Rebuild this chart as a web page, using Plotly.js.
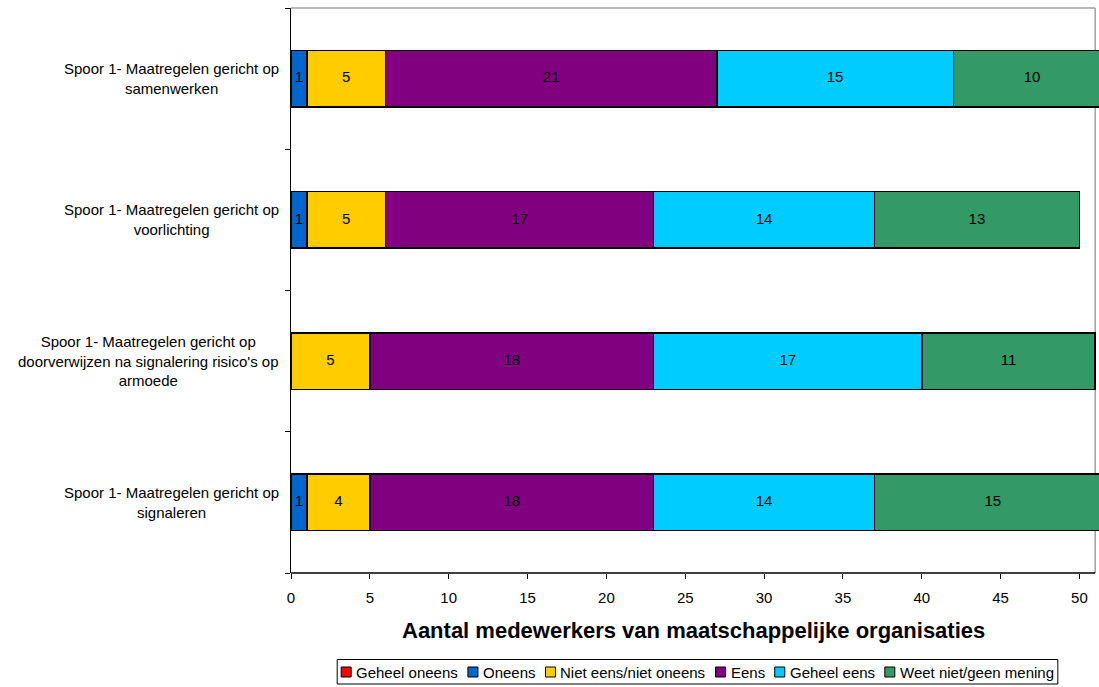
<!DOCTYPE html>
<html>
<head>
<meta charset="utf-8">
<script src="https://cdn.plot.ly/plotly-3.0.1.min.js"></script>
<style>html,body{margin:0;padding:0;background:#fff;}#chart{width:1099px;height:687px;}</style>
</head>
<body>
<div id="chart"></div>
<script>
// Categories, bottom to top as drawn
const categories = [
  "Spoor 1- Maatregelen gericht op<br>signaleren",
  "Spoor 1- Maatregelen gericht op<br>doorverwijzen na signalering risico's op<br>armoede",
  "Spoor 1- Maatregelen gericht op<br>voorlichting",
  "Spoor 1- Maatregelen gericht op<br>samenwerken"
];
const seriesNames = ["Geheel oneens", "Oneens", "Niet eens/niet oneens", "Eens", "Geheel eens", "Weet niet/geen mening"];
const geheelOneens = [0, 0, 0, 0];
const oneens = [1, 0, 1, 1];
const nietEensNietOneens = [4, 5, 5, 5];
const eens = [18, 18, 17, 21];
const geheelEens = [14, 17, 14, 15];
const weetNiet = [15, 11, 13, 10];
const seriesValues = [geheelOneens, oneens, nietEensNietOneens, eens, geheelEens, weetNiet];
const seriesColors = ["#FF0000", "#0066CC", "#FFCC00", "#800080", "#00CCFF", "#339966"];
const xTicks = [0, 5, 10, 15, 20, 25, 30, 35, 40, 45, 50];
const xTitle = "Aantal medewerkers van maatschappelijke organisaties";

const FONT = "Liberation Sans, Arial, sans-serif";
const W = 1099, H = 687, ML = 291, MR = 0, MT = 8, MB = 114;
const PW = W - ML - MR, PH = H - MT - MB;
const XMAX = 51.24, XFRAME = 51;
const px2paperX = p => (p - ML) / PW;
const px2paperY = p => (H - MB - p) / PH;

const catIdx = categories.map((c, i) => i);
const traces = seriesValues.map((vals, s) => ({
  type: "bar",
  orientation: "h",
  name: seriesNames[s],
  y: catIdx,
  x: vals,
  marker: {color: seriesColors[s], line: {color: "#000", width: 1.5}},
  showlegend: false,
  hoverinfo: "skip"
}));

// value labels at the middle of each segment
const lx = [], ly = [], lt = [];
catIdx.forEach(i => {
  let start = 0;
  seriesValues.forEach(vals => {
    const v = vals[i];
    if (v > 0) { lx.push(start + v / 2); ly.push(i); lt.push(String(v)); }
    start += v;
  });
});
traces.push({
  type: "scatter", mode: "text", x: lx, y: ly, text: lt,
  textposition: "middle center", textfont: {family: FONT, size: 15, color: "#000"},
  cliponaxis: false, showlegend: false, hoverinfo: "skip"
});

const annotations = categories.map((c, i) => ({
  xref: "paper", yref: "y", x: 0, y: i,
  xanchor: "right", yanchor: "middle", xshift: -10,
  align: "center", showarrow: false, text: c,
  font: {family: FONT, size: 15, color: "#000"}
}));
annotations.push({
  xref: "paper", yref: "paper", x: px2paperX(693), y: px2paperY(630),
  xanchor: "center", yanchor: "middle", showarrow: false,
  text: "<b>" + xTitle + "</b>", font: {family: FONT, size: 22, color: "#000"}
});

const shapes = [
  {type: "line", xref: "x", yref: "paper", x0: 0, x1: XFRAME, y0: 1, y1: 1, line: {color: "#a0a0a0", width: 1.5}, layer: "below"},
  {type: "line", xref: "x", yref: "paper", x0: XFRAME, x1: XFRAME, y0: 0, y1: 1, line: {color: "#a0a0a0", width: 1.5}, layer: "below"},
  {type: "line", xref: "x", yref: "paper", x0: 0, x1: XFRAME, y0: 0, y1: 0, line: {color: "#000", width: 1.5}, layer: "above"}
];

// manual legend
const ctx = document.createElement("canvas").getContext("2d");
ctx.font = "15px 'Liberation Sans'";
const SQ = 10, GAP_T = 5, GAP_I = 10, PAD = 4;
const widths = seriesNames.map(n => ctx.measureText(n).width);
let total = PAD;
widths.forEach((w, k) => { total += SQ + GAP_T + w + (k < widths.length - 1 ? GAP_I : 0); });
total += PAD;
const boxL = 697.5 - total / 2, boxR = boxL + total, boxT = 659.5, boxB = 684, cy = 672;
shapes.push({type: "rect", xref: "paper", yref: "paper", x0: px2paperX(boxL), x1: px2paperX(boxR), y0: px2paperY(boxB), y1: px2paperY(boxT), line: {color: "#000", width: 1}, fillcolor: "#fff"});
let cx = boxL + PAD;
seriesNames.forEach((n, k) => {
  shapes.push({type: "rect", xref: "paper", yref: "paper",
    x0: px2paperX(cx), x1: px2paperX(cx + SQ), y0: px2paperY(cy + SQ / 2), y1: px2paperY(cy - SQ / 2),
    line: {color: "#000", width: 1}, fillcolor: seriesColors[k]});
  annotations.push({xref: "paper", yref: "paper", x: px2paperX(cx + SQ + GAP_T - 1), y: px2paperY(cy),
    xanchor: "left", yanchor: "middle", showarrow: false, text: n, borderpad: 0,
    font: {family: FONT, size: 15, color: "#000"}});
  cx += SQ + GAP_T + widths[k] + GAP_I;
});

const layout = {
  width: W, height: H,
  margin: {l: ML, r: MR, t: MT, b: MB},
  paper_bgcolor: "#fff", plot_bgcolor: "#fff",
  barmode: "stack",
  bargap: 0.6,
  showlegend: false,
  font: {family: FONT, size: 15, color: "#000"},
  xaxis: {
    range: [0, XMAX], tickvals: xTicks, ticktext: xTicks.map(String),
    showgrid: false, zeroline: false, showline: false,
    ticks: "outside", ticklen: 5, tickcolor: "#000", tickwidth: 1,
    ticklabelstandoff: 6,
    tickfont: {size: 15}
  },
  yaxis: {
    range: [-0.5, 3.5], tickvals: [-0.5, 0.5, 1.5, 2.5, 3.5], ticktext: ["", "", "", "", ""],
    showgrid: false, zeroline: false,
    showline: true, linecolor: "#000", linewidth: 1.5,
    ticks: "outside", ticklen: 5, tickcolor: "#000", tickwidth: 1
  },
  shapes: shapes,
  annotations: annotations
};

Plotly.newPlot("chart", traces, layout, {displayModeBar: false, staticPlot: true});
</script>
</body>
</html>
